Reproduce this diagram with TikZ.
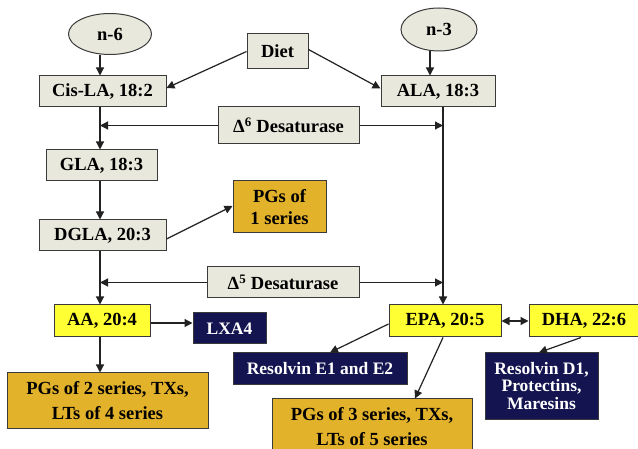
\documentclass[tikz,border=0pt]{standalone}
\usepackage{fontspec}
\setmainfont{Liberation Serif}
\usetikzlibrary{shapes.geometric,arrows.meta}
\definecolor{greyc}{HTML}{E8E8DC}
\definecolor{yelc}{HTML}{FFFF33}
\definecolor{goldc}{HTML}{E3B22B}
\definecolor{navyc}{HTML}{141450}
\definecolor{bordc}{HTML}{3A3A3A}
\definecolor{linec}{HTML}{222222}
\tikzset{
  base/.style={draw=bordc, line width=1pt, inner sep=0pt, align=center, font=\bfseries\fontsize{18.5}{23}\selectfont, text=black},
  greybox/.style={base, fill=greyc},
  oval/.style={base, ellipse, fill=greyc},
  yelbox/.style={base, fill=yelc},
  goldbox/.style={base, fill=goldc},
  navybox/.style={base, fill=navyc, text=white, font=\bfseries\fontsize{17.5}{17.5}\selectfont},
  arr/.style={draw=linec, line width=1.2pt, -{Triangle[length=8pt,width=8pt]}},
  darr/.style={draw=linec, line width=1.2pt, {Triangle[length=8pt,width=8pt]}-{Triangle[length=8pt,width=8pt]}},
  ln/.style={draw=linec, line width=1.2pt}
}
\begin{document}
\begin{tikzpicture}[x=1pt,y=-1pt]
\useasboundingbox (0,0) rectangle (638,449);
\clip (0,0) rectangle (638,449);
\fill[white] (0,0) rectangle (638,449);
\coordinate (Lx) at (100,0);
\coordinate (Rx) at (443,0);
\coordinate (Nx) at (430,0);
% nodes
\node[oval, minimum width=83pt, minimum height=41pt] (n6) at (110,34) {n-6};
\node[oval, minimum width=76pt, minimum height=43pt] (n3) at (439,29.5) {n-3};
\node[greybox, minimum width=61pt, minimum height=35pt] (diet) at (277.5,51.5) {Diet};
\node[greybox, minimum width=127pt, minimum height=31pt] (cis) at (102.5,91.5) {Cis-LA, 18:2};
\node[greybox, minimum width=114pt, minimum height=31pt] (ala) at (438,91.5) {ALA, 18:3};
\node[greybox, minimum width=141pt, minimum height=37pt] (d6) at (288.5,125.5) {Δ\textsuperscript{6} Desaturase};
\node[greybox, minimum width=111pt, minimum height=31pt] (gla) at (101.5,165.5) {GLA, 18:3};
\node[greybox, minimum width=127pt, minimum height=31pt] (dgla) at (102.5,235.5) {DGLA, 20:3};
\node[goldbox, minimum width=93pt, minimum height=52pt, font=\bfseries\fontsize{18.5}{22}\selectfont] (pg1) at (279.5,207) {PGs of\\1 series};
\node[greybox, minimum width=152pt, minimum height=31pt] (d5) at (283,282.5) {Δ\textsuperscript{5} Desaturase};
\node[yelbox, minimum width=96pt, minimum height=32pt] (aa) at (102,321) {AA, 20:4};
\node[navybox, minimum width=73pt, minimum height=31pt] (lxa) at (229.5,328.5) {LXA4};
\node[goldbox, minimum width=201pt, minimum height=55pt, font=\bfseries\fontsize{18.5}{25}\selectfont] (pg2) at (107.5,400.5) {PGs of 2 series, TXs,\\LTs of 4 series};
\node[yelbox, minimum width=112pt, minimum height=32pt] (epa) at (445,321) {EPA, 20:5};
\node[yelbox, minimum width=110pt, minimum height=32pt] (dha) at (584,321) {DHA, 22:6};
\node[navybox, minimum width=174pt, minimum height=32pt] (re) at (320,369) {Resolvin E1 and E2};
\node[goldbox, minimum width=200pt, minimum height=55pt, font=\bfseries\fontsize{18.5}{25}\selectfont] (pg3) at (372,426.5) {PGs of 3 series, TXs,\\LTs of 5 series};
\node[navybox, minimum width=113pt, minimum height=66pt] (rd) at (541.5,386) {Resolvin D1,\\Protectins,\\Maresins};
% connectors
\draw[arr] (n6.south -| Lx) -- (cis.north -| Lx);
\draw[arr] (n3.south -| Nx) -- (ala.north -| Nx);
\draw[arr] (diet.west) -- ([yshift=3.5pt]cis.east);
\draw[arr] ([yshift=2pt]diet.east) -- ([yshift=3pt]ala.west);
\draw[arr] (cis.south -| Lx) -- (gla.north -| Lx);
\draw[arr] (gla.south -| Lx) -- (dgla.north -| Lx);
\draw[arr] (dgla.south -| Lx) -- (aa.north -| Lx);
\draw[arr] (aa.south -| Lx) -- (pg2.north -| Lx);
\draw[arr] (d6.west) -- (d6.west -| Lx);
\draw[arr] (d6.east) -- (d6.east -| Rx);
\draw[arr] (d5.west) -- (d5.west -| Lx);
\draw[arr] (d5.east) -- (d5.east -| Rx);
\draw[arr] (ala.south -| Rx) -- (epa.north -| Rx);
\draw[arr] ([yshift=-3.5pt]dgla.east) -- ([yshift=1pt]pg1.west);
\draw[arr] ([yshift=-2pt]aa.east) -- ([yshift=-2pt]aa.east -| lxa.west);
\draw[darr] (epa.east) -- (dha.west);
\draw[arr] ([yshift=-3pt]epa.west) -- ([xshift=10pt]re.north);
\draw[arr] (epa.south -| Rx) -- ([xshift=43pt]pg3.north);
\draw[arr] ([xshift=-3pt]dha.south) -- ([xshift=-2.5pt]rd.north);
\end{tikzpicture}
\end{document}
